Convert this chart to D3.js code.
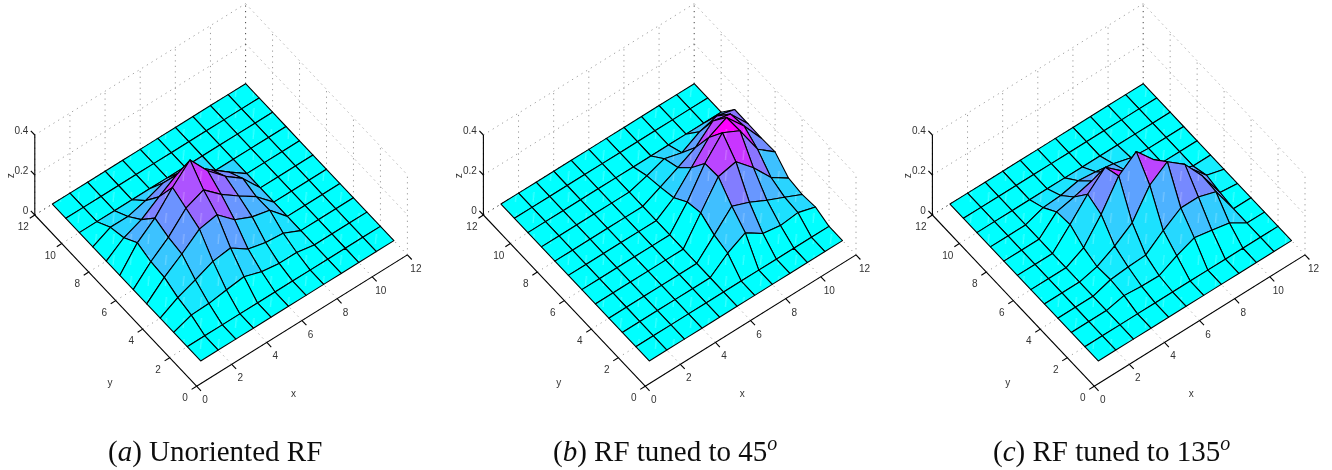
<!DOCTYPE html>
<html>
<head>
<meta charset="utf-8">
<style>
  html, body { margin: 0; padding: 0; background: #fff; }
  svg { display: block; }
</style>
<script src="https://cdn.jsdelivr.net/npm/d3@7"></script>
</head>
<body>
<div id="chart"></div>
<script>
// grid of the surfaces (x = 1..12, y = 1..12)
const gridX = [1, 2, 3, 4, 5, 6, 7, 8, 9, 10, 11, 12];
const gridY = [1, 2, 3, 4, 5, 6, 7, 8, 9, 10, 11, 12];
const xyTicks = [0, 2, 4, 6, 8, 10, 12];
const zTicks = [0, 0.2, 0.4];
const zTickLabels = ['0', '0.2', '0.4'];

// z values, one row per y
const zUnoriented = [
  [0, 0, 0, 0, 0, 0, 0, 0, 0, 0, 0, 0],
  [0, 0, 0, 0, 0, 0, 0, 0, 0, 0, 0, 0],
  [0, 0.032, 0.035, 0.048, 0.06, 0.03, 0.017, 0.017, 0, 0, 0, 0],
  [0, 0.048, 0.082, 0.12, 0.132, 0.072, 0.05, 0.042, 0, 0, 0, 0],
  [0, 0.078, 0.14, 0.21, 0.227, 0.147, 0.107, 0.085, 0, 0, 0, 0],
  [0, 0.085, 0.152, 0.243, 0.28, 0.203, 0.14, 0.082, 0, 0, 0, 0],
  [0, 0.108, 0.177, 0.275, 0.358, 0.25, 0.167, 0.102, 0, 0, 0, 0],
  [0, 0.062, 0.098, 0.157, 0.212, 0.2, 0.127, 0.062, 0, 0, 0, 0],
  [0, 0.043, 0.042, 0.067, 0.1, 0.1, 0.05, 0, 0, 0, 0, 0],
  [0, 0, 0, 0, 0, 0, 0, 0, 0, 0, 0, 0],
  [0, 0, 0, 0, 0, 0, 0, 0, 0, 0, 0, 0],
  [0, 0, 0, 0, 0, 0, 0, 0, 0, 0, 0, 0]
];
const zTuned45 = [
  [0, 0, 0, 0, 0, 0, 0, 0, 0, 0, 0, 0],
  [0, 0, 0, 0, 0, 0, 0, 0, 0, 0, 0, 0],
  [0, 0, 0, 0, 0, 0, 0.068, 0.115, 0.057, 0.042, 0.052, 0.025],
  [0, 0, 0, 0, 0, 0, 0.087, 0.177, 0.142, 0.097, 0.058, 0.017],
  [0, 0, 0, 0, 0, 0, 0.127, 0.253, 0.273, 0.188, 0.085, 0.027],
  [0, 0, 0, 0, 0, 0, 0.11, 0.248, 0.347, 0.302, 0.155, 0.087],
  [0, 0, 0, 0, 0, 0, 0.06, 0.155, 0.252, 0.297, 0.2, 0.083],
  [0, 0, 0, 0, 0, 0, 0.042, 0.085, 0.13, 0.208, 0.188, 0.085],
  [0, 0, 0, 0, 0, 0, 0.027, 0.058, 0.033, 0.083, 0.108, 0.085],
  [0, 0, 0, 0, 0, 0, 0, 0, 0, 0, 0, 0],
  [0, 0, 0, 0, 0, 0, 0, 0, 0, 0, 0, 0],
  [0, 0, 0, 0, 0, 0, 0, 0, 0, 0, 0, 0]
];
const zTuned135 = [
  [0, 0, 0, 0, 0, 0, 0, 0, 0, 0, 0, 0],
  [0, 0, 0, 0, 0, 0, 0, 0, 0, 0, 0, 0],
  [0, 0, 0, 0.02, 0.012, 0.01, 0.055, 0.09, 0.073, 0.055, 0, 0],
  [0, 0, 0, 0.028, 0.037, 0.042, 0.11, 0.168, 0.168, 0.14, 0, 0],
  [0, 0, 0, 0.022, 0.07, 0.132, 0.265, 0.328, 0.26, 0.147, 0.01, 0],
  [0, 0, 0, 0.045, 0.157, 0.295, 0.362, 0.267, 0.192, 0.117, 0.025, 0],
  [0, 0, 0, 0.09, 0.187, 0.267, 0.193, 0.15, 0.083, 0.033, 0, 0],
  [0, 0, 0, 0.082, 0.102, 0.127, 0.117, 0.067, 0.017, 0, 0, 0],
  [0, 0, 0, 0.032, 0.038, 0.057, 0.047, 0.033, 0.008, 0, 0, 0],
  [0, 0, 0, 0, 0, 0, 0, 0, 0, 0, 0, 0],
  [0, 0, 0, 0, 0, 0, 0, 0, 0, 0, 0, 0],
  [0, 0, 0, 0, 0, 0, 0, 0, 0, 0, 0, 0]
];

const width = 1332;
const height = 470;

const svg = d3.select('#chart')
  .append('svg')
  .attr('width', width)
  .attr('height', height);

// the reference is a slightly soft scan
const defs = svg.append('defs');
defs.append('filter')
  .attr('id', 'soft')
  .append('feGaussianBlur')
  .attr('stdDeviation', 0.35);

// faint pale streaks that run down the faces
const streaks = defs.append('pattern')
  .attr('id', 'streaks')
  .attr('patternUnits', 'userSpaceOnUse')
  .attr('width', 17.5)
  .attr('height', 21);
streaks.append('line')
  .attr('x1', 9).attr('y1', 3)
  .attr('x2', 8).attr('y2', 13)
  .attr('stroke', '#fff')
  .attr('stroke-opacity', 0.3)
  .attr('stroke-width', 1);

const root = svg.append('g').attr('filter', 'url(#soft)');

// the oblique view: each data axis moves a point both across and down the page
const xAcross = d3.scaleLinear().domain([0, 12]).range([0, 210.8]);
const xDown = d3.scaleLinear().domain([0, 12]).range([0, -131.3]);
const yAcross = d3.scaleLinear().domain([0, 12]).range([0, -161.8]);
const yDown = d3.scaleLinear().domain([0, 12]).range([0, -171.2]);
const zDown = d3.scaleLinear().domain([0, 0.4]).range([0, -80]);

const labelFont = 'Liberation Sans, Arial, sans-serif';
const labelColor = '#333';

function drawPanel(originX, originY, zValues, captionX, captionParts) {
  const g = root.append('g');

  const px = (x, y) => originX + xAcross(x) + yAcross(y);
  const py = (x, y, z) => originY + xDown(x) + yDown(y) + zDown(z);
  const line = d3.line();

  function dotted(points, color) {
    g.append('path')
      .attr('d', line(points))
      .attr('fill', 'none')
      .attr('stroke', color || '#999')
      .attr('stroke-width', 1)
      .attr('stroke-dasharray', '1.2 4.3');
  }

  // floor grid
  xyTicks.forEach(t => {
    dotted([[px(t, 0), py(t, 0, 0)], [px(t, 12), py(t, 12, 0)]]);
    dotted([[px(0, t), py(0, t, 0)], [px(12, t), py(12, t, 0)]], t === 12 ? '#111' : null);
  });
  // back walls
  xyTicks.forEach(t => {
    dotted([[px(t, 12), py(t, 12, 0)], [px(t, 12), py(t, 12, 0.4)]], t === 12 ? '#444' : null);
    if (t < 12) dotted([[px(12, t), py(12, t, 0)], [px(12, t), py(12, t, 0.4)]]);
  });
  zTicks.slice(1).forEach(z => {
    dotted([[px(0, 12), py(0, 12, z)], [px(12, 12), py(12, 12, z)]]);
    dotted([[px(12, 12), py(12, 12, z)], [px(12, 0), py(12, 0, z)]]);
  });

  // surface, back cells first; each cell takes the colour of its lowest corner
  const color = d3.scaleLinear()
    .domain([0, d3.max(zValues.flat())])
    .range(['#00ffff', '#ff00ff']);
  const corner = (i, j) => [px(gridX[i], gridY[j]), py(gridX[i], gridY[j], zValues[j][i])];
  for (let i = gridX.length - 2; i >= 0; i--) {
    for (let j = gridY.length - 2; j >= 0; j--) {
      const cell = line([corner(i, j), corner(i + 1, j), corner(i + 1, j + 1), corner(i, j + 1)]) + 'Z';
      g.append('path')
        .attr('d', cell)
        .attr('fill', color(zValues[j][i]));
      g.append('path')
        .attr('d', cell)
        .attr('fill', 'url(#streaks)')
        .attr('stroke', '#000')
        .attr('stroke-width', 1.1)
        .attr('stroke-linejoin', 'round');
    }
  }

  // axis lines
  function solid(points) {
    g.append('path')
      .attr('d', line(points))
      .attr('fill', 'none')
      .attr('stroke', '#000')
      .attr('stroke-width', 1.1);
  }
  solid([[px(0, 0), py(0, 0, 0)], [px(12, 0), py(12, 0, 0)]]);
  solid([[px(0, 0), py(0, 0, 0)], [px(0, 12), py(0, 12, 0)]]);
  solid([[px(0, 12), py(0, 12, 0)], [px(0, 12), py(0, 12, 0.4)]]);

  function label(x, y, text, anchor) {
    return g.append('text')
      .attr('x', x)
      .attr('y', y)
      .attr('text-anchor', anchor || 'middle')
      .attr('dominant-baseline', 'central')
      .attr('font-family', labelFont)
      .attr('font-size', '10px')
      .attr('fill', labelColor)
      .text(text);
  }

  // ticks and tick labels
  xyTicks.forEach(t => {
    solid([[px(t, 0), py(t, 0, 0)], [px(t, 0) + 4.4, py(t, 0, 0) + 4.6]]);
    label(px(t, 0) + 8.5, py(t, 0, 0) + 13.5, t);
    solid([[px(0, t), py(0, t, 0)], [px(0, t) - 5, py(0, t, 0) + 3.2]]);
    label(px(0, t) - 11.5, py(0, t, 0) + 11.5, t);
  });
  zTicks.forEach((z, k) => {
    solid([[px(0, 12), py(0, 12, z)], [px(0, 12) - 4, py(0, 12, z) - 4.2]]);
    label(px(0, 12) - 6.5, py(0, 12, z) - 5, zTickLabels[k], 'end');
  });

  // axis titles
  label(originX + 97, originY + 7, 'x');
  label(originX - 86.5, originY - 3.5, 'y');
  label(0, 0, 'z')
    .attr('transform', `translate(${originX - 186.5},${originY - 210.5}) rotate(-90)`);

  // caption
  const caption = g.append('text')
    .attr('x', captionX)
    .attr('y', 461)
    .attr('font-family', 'Liberation Serif, Times New Roman, serif')
    .attr('font-size', '29px')
    .attr('fill', '#111');
  captionParts.forEach(part => {
    const span = caption.append('tspan').text(part.text);
    if (part.italic) span.attr('font-style', 'italic');
    if (part.sup) span.attr('dy', -11).attr('font-size', '20px');
  });
}

drawPanel(196.6, 386.2, zUnoriented, 108, [
  { text: '(' }, { text: 'a', italic: true }, { text: ') Unoriented RF' }
]);
drawPanel(645.2, 386.2, zTuned45, 553, [
  { text: '(' }, { text: 'b', italic: true }, { text: ') RF tuned to 45' }, { text: 'o', italic: true, sup: true }
]);
drawPanel(1094.2, 386.2, zTuned135, 993, [
  { text: '(' }, { text: 'c', italic: true }, { text: ') RF tuned to 135' }, { text: 'o', italic: true, sup: true }
]);
</script>
</body>
</html>
